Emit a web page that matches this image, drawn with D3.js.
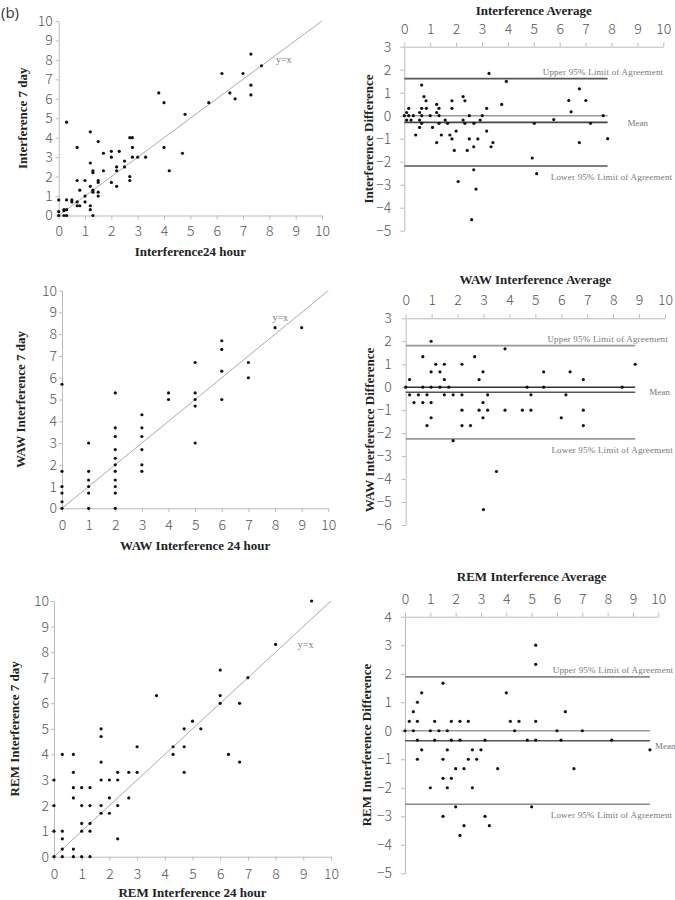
<!DOCTYPE html>
<html><head><meta charset="utf-8">
<script src="https://cdn.jsdelivr.net/npm/d3@7/dist/d3.min.js"></script>
<style>body{margin:0;background:#fff}</style>
</head><body>
<svg id="c" width="675" height="900"></svg>
<script>
// ---------- DATA ----------
const axisTicks = [0,1,2,3,4,5,6,7,8,9,10];

// Panel 1: Interference 24 hour vs 7 day
const int24 = [0,0,0,0.2,0.2,0.2,0.3,0.3,0.3,0.3,0.5,0.5,0.7,0.7,0.7,0.7,0.8,0.8,1.0,1.0,1.0,1.2,1.2,1.2,1.2,1.2,1.3,1.3,1.3,1.3,1.3,1.5,1.5,1.5,1.5,1.5,1.7,1.7,2.0,2.0,2.0,2.2,2.2,2.2,2.3,2.5,2.5,2.7,2.8,2.7,2.7,2.8,2.8,3.0,3.3,3.8,4.0,4.0,4.2,4.7,4.8,5.7,6.2,6.5,6.7,7.0,7.3,7.3,7.3,7.7];
const int7  = [0.8,0.2,0,0.25,0.3,0,0,0.3,0.8,4.8,0.8,0.7,3.5,1.8,0.7,0.5,0.5,1.3,1.8,1.0,0.7,4.3,2.7,1.5,0.5,0.3,0,2.3,2.2,1.3,1.2,3.8,1.8,1.7,1.2,1.0,3.2,2.3,3.3,3.0,1.7,2.5,2.3,1.5,3.3,2.8,2.5,4.0,4.0,2.0,1.8,3.5,3.0,3.0,3.0,6.3,5.8,3.5,2.3,3.2,5.2,5.8,7.3,6.3,6.0,7.3,8.3,6.7,6.2,7.7];

// Panel 2: Interference Bland-Altman
const intAvg  = [0,0.09,0.17,0.09,0.17,0.26,0.35,0.44,0.59,0.59,0.59,0.67,0.67,0.67,0.67,0.76,0.84,0.85,1.0,1.09,1.25,1.25,1.25,1.34,1.34,1.34,1.43,1.58,1.67,1.76,1.84,1.84,1.84,1.93,2.0,2.08,2.27,2.27,2.34,2.34,2.43,2.51,2.51,2.69,2.68,2.68,2.77,2.84,2.93,3.01,3.18,3.18,3.27,3.35,3.42,3.76,3.94,2.6,4.94,5.02,5.11,5.77,6.35,6.44,6.76,6.76,7.01,7.19,7.68,7.85];
const intDiff = [0,0.14,0.32,-0.19,0,-0.19,0,-0.84,0.14,-0.19,-0.51,1.33,0.32,0,-0.33,0.83,0.65,0.32,0,-0.51,0.49,0.14,-1.17,0.32,0,-0.33,-0.84,-0.19,-0.33,-0.84,0.65,0.32,-1.01,-1.51,-0.67,-2.86,0.83,-0.19,0.65,-0.33,-1.51,0,-1.01,-0.33,-1.35,-2.35,-3.19,-1.01,-0.19,0,0.32,-0.67,1.84,-1.35,-1.17,0.49,1.49,-4.52,-1.84,-0.33,-2.52,-0.17,0.66,0.17,1.17,-1.17,0.66,-0.33,0,-1.0];
const intStats = {mean:-0.29, upper:1.61, lower:-2.19};

// Panel 3: WAW Interference 24 hour vs 7 day
const waw24 = [0,0,0,0,0,0, 1,1,1,1,1,1, 2,2,2,2,2,2,2,2,2,2,2, 3,3,3,3,3,3, 4,4, 5,5,5,5,5, 6,6,6,6, 7,7, 8, 9];
const waw7  = [5.7,1.7,1.0,0.7,0.3,0, 3.0,1.7,1.3,1.0,0.7,0, 5.3,3.7,3.3,2.7,2.3,2.0,1.7,1.3,1.0,0.7,0, 4.3,3.7,3.3,2.7,2.0,1.7, 5.3,5.0, 6.7,5.3,5.0,4.7,3.0, 7.7,7.3,6.3,5.0, 6.7,6.0, 8.3, 8.3];

// Panel 4: WAW Bland-Altman
const wawAvg  = [0,0.15,0.15,0.32,0.49,0.66,0.66,0.66,0.82,0.82,0.98,0.98,0.98,0.98,0.98,1.16,1.32,1.32,1.49,1.49,1.49,1.66,1.83,1.83,2.17,2.17,2.17,2.17,2.5,2.66,2.83,2.83,2.98,2.98,2.98,3.16,3.16,3.83,3.83,4.5,4.68,4.83,4.83,5.32,5.32,3.5,3.0,6.0,6.18,6.34,6.85,6.85,6.85,8.35,8.85];
const wawDiff = [0,0.33,-0.33,-0.67,-0.33,1.33,0,-0.67,-0.33,-1.67,2.0,0.67,0,-0.67,-1.33,1.0,0.67,0,1.0,0.33,-0.33,0,-0.33,-2.33,1.0,-0.33,-1.0,-1.67,-1.67,1.33,0.33,-1.0,0.67,-0.67,-1.33,-0.33,-1.0,1.67,-1.0,-1.0,0,-0.33,-1.0,0.67,0,-3.67,-5.33,-1.33,-0.33,0.67,0.33,-1.0,-1.67,0,1.0];
const wawStats = {mean:-0.22, upper:1.81, lower:-2.25};

// Panel 5: REM Interference 24 hour vs 7 day
const rem24 = [0,0,0,0, 0.3,0.3,0.3,0.3,0.3, 0.7,0.7,0.7,0.7,0.7,0.7, 1.0,1.0,1.0,1.0,1.0, 1.3,1.3,1.3,1.3,1.3, 1.7,1.7,1.7,1.7,1.7,1.7, 2.0,2.0,2.0, 2.3,2.3,2.3,2.3, 2.7,2.7, 3.0,3.0, 3.7, 4.3,4.3, 4.7,4.7,4.7, 5.0, 5.3, 6.0,6.0,6.0, 6.3, 6.7,6.7, 7.0, 8.0, 9.3];
const rem7  = [0,1,2,3, 0,0.3,0.7,1,4, 0,0.3,2.3,2.7,3.3,4.0, 0,1.0,1.3,2.0,2.7, 0,1.0,1.3,2.0,2.7, 5.0,4.7,3.7,3.0,2.0,1.7, 3.0,2.3,1.7, 3.3,3.0,2.0,0.7, 3.3,2.3, 4.3,3.3, 6.3, 4.3,4.0, 5.0,4.3,3.3, 5.3, 5.0, 7.3,6.3,6.0, 4.0, 6.0,3.7, 7.0, 8.3, 10.0];

// Panel 6: REM Bland-Altman
const remAvg  = [0,0.17,0.33,0.33,0.49,0.49,0.49,0.49,0.66,0.66,1.0,1.0,1.17,1.17,1.34,1.5,1.5,1.5,1.5,1.67,1.67,1.67,1.83,1.83,1.83,2.0,2.0,2.17,2.17,2.17,2.33,2.33,2.5,2.5,2.66,2.66,2.83,3.0,3.16,3.16,3.33,3.66,4.0,4.16,4.33,4.5,4.83,5.0,5.16,5.16,5.16,5.16,6.0,6.16,6.33,6.67,7.0,8.16,9.67];
const remDiff = [0,0.33,0.67,0,1.0,0.33,-0.33,-1.0,1.33,-0.67,0,-2.0,0.33,-0.33,0,1.67,-1.0,-1.67,-3.0,0,-0.67,-2.0,0.33,-0.33,-1.67,-1.33,-2.67,0.33,-0.33,-3.67,-1.33,-3.33,0.33,-1.0,-0.67,-2.0,-1.0,-0.67,-0.33,-3.0,-3.33,-1.33,1.33,0.33,0,0.33,-0.33,-2.67,3.0,2.33,0.33,-0.33,0,-0.33,0.67,-1.33,0,-0.33,-0.67];
const remStats = {mean:-0.35, upper:1.89, lower:-2.58};

const yTicksBA1 = [3,2,1,0,-1,-2,-3,-4,-5];
const yTicksBA2 = [3,2,1,0,-1,-2,-3,-4,-5,-6];
const yTicksBA3 = [4,3,2,1,0,-1,-2,-3,-4,-5];

// ---------- DRAWING ----------
const svg = d3.select('#c');
const TICKFONT = '"Noto Sans CJK SC","Open Sans",sans-serif';
const SERIF = '"Liberation Serif","Times New Roman",serif';

function styleAxis(g, fs){
  g.select('.domain').attr('stroke','#bbb').attr('stroke-width',1);
  g.selectAll('.tick line').attr('stroke','#bbb');
  g.selectAll('.tick text').attr('fill','#555').attr('font-family',TICKFONT)
    .attr('font-size',fs||14).attr('font-weight',300);
}

svg.append('text').attr('x',1).attr('y',18).text('(b)')
  .attr('font-family','"Open Sans",sans-serif').attr('font-size',15).attr('fill','#333');

function scatterPanel(o){
  const x = d3.scaleLinear().domain([0,10]).range(o.xr);
  const y = d3.scaleLinear().domain([0,10]).range(o.yr);
  const g = svg.append('g');
  const gx = g.append('g').attr('transform',`translate(0,${o.yr[0]})`)
    .call(d3.axisBottom(x).tickValues(axisTicks).tickFormat(d3.format('d')).tickSize(4).tickSizeOuter(0).tickPadding(o.xpad));
  styleAxis(gx);
  const gy = g.append('g').attr('transform',`translate(${o.xr[0]},0)`)
    .call(d3.axisLeft(y).tickValues(axisTicks).tickFormat(d3.format('d')).tickSize(3).tickSizeOuter(0).tickPadding(o.ypad));
  styleAxis(gy);
  g.append('line').attr('x1',x(0)).attr('y1',y(0)).attr('x2',x(10)).attr('y2',y(10))
    .attr('stroke','#aaa').attr('stroke-width',1);
  g.append('text').attr('x',x(o.yxPos[0])).attr('y',y(o.yxPos[1])).text('y=x')
    .attr('font-family',SERIF).attr('font-size',10).attr('fill','#777');
  g.selectAll('circle').data(o.xs.map((v,i)=>[v,o.ys[i]])).join('circle')
    .attr('cx',d=>x(d[0])).attr('cy',d=>y(d[1])).attr('r',1.6).attr('fill','#111');
  g.append('text').attr('x',(o.xr[0]+o.xr[1])/2).attr('y',o.xLabelY).attr('text-anchor','middle')
    .attr('font-family',SERIF).attr('font-weight','bold').attr('font-size',13).attr('fill','#222').text(o.xLabel);
  g.append('text').attr('transform',`translate(${o.yLabelX},${(o.yr[0]+o.yr[1])/2}) rotate(-90)`)
    .attr('text-anchor','middle').attr('font-family',SERIF).attr('font-weight','bold')
    .attr('font-size',13).attr('fill','#222').text(o.yLabel);
}

function baPanel(o){
  const x = d3.scaleLinear().domain([0,10]).range(o.xr);
  const y = d3.scaleLinear().domain([o.yticks[0], o.yticks[o.yticks.length-1]]).range(o.yr);
  const g = svg.append('g');
  const gx = g.append('g').attr('transform',`translate(0,${o.yr[0]})`)
    .call(d3.axisTop(x).tickValues(axisTicks).tickFormat(d3.format('d')).tickSize(4).tickSizeOuter(0).tickPadding(9));
  styleAxis(gx);
  const gy = g.append('g').attr('transform',`translate(${o.xr[0]},0)`)
    .call(d3.axisLeft(y).tickValues(o.yticks).tickFormat(d3.format('d')).tickSize(4).tickSizeOuter(0).tickPadding(o.ypad));
  styleAxis(gy);
  const xEnd = d3.max(o.avg);
  const lines = [
    {v:0, c:o.colors.zero},
    {v:o.stats.upper, c:o.colors.lim},
    {v:o.stats.lower, c:o.colors.lim},
    {v:o.stats.mean, c:o.colors.mean}
  ];
  g.selectAll('line.h').data(lines).join('line').attr('class','h')
    .attr('x1',x(0)).attr('x2',x(xEnd)).attr('y1',d=>y(d.v)).attr('y2',d=>y(d.v))
    .attr('stroke',d=>d.c).attr('stroke-width',1.6);
  const ann = g.append('g').attr('font-family',SERIF).attr('font-size',9).attr('fill','#777');
  ann.append('text').attr('x',x(10)+o.upEnd).attr('y',y(o.stats.upper)-4).attr('text-anchor','end')
    .attr('letter-spacing',0.2).text('Upper 95% Limit of Agreement');
  ann.append('text').attr('x',x(10)+o.loEnd).attr('y',y(o.stats.lower)+14).attr('text-anchor','end')
    .attr('letter-spacing',0.2).text('Lower 95% Limit of Agreement');
  ann.append('text').attr('x',x(xEnd)+o.meanOff).attr('y',y(o.stats.mean)+o.meanDy).text('Mean');
  g.selectAll('circle').data(o.avg.map((v,i)=>[v,o.diff[i]])).join('circle')
    .attr('cx',d=>x(d[0])).attr('cy',d=>y(d[1])).attr('r',1.6).attr('fill','#111');
  g.append('text').attr('x',(o.xr[0]+o.xr[1])/2).attr('y',o.titleY).attr('text-anchor','middle')
    .attr('font-family',SERIF).attr('font-weight','bold').attr('font-size',13).attr('fill','#222').text(o.title);
  g.append('text').attr('transform',`translate(${o.yLabelX},${o.yLabelCY}) rotate(-90)`)
    .attr('text-anchor','middle').attr('font-family',SERIF).attr('font-weight','bold')
    .attr('font-size',13).attr('fill','#222').text(o.yLabel);
}

scatterPanel({xs:int24, ys:int7, xr:[58.7,322], yr:[215.5,21], xpad:7, ypad:3,
  xLabel:'Interference24 hour', xLabelY:256, yLabel:'Interference 7 day', yLabelX:27, yxPos:[8.25,7.85]});
scatterPanel({xs:waw24, ys:waw7, xr:[62,328.3], yr:[508.3,290.7], xpad:8, ypad:2,
  xLabel:'WAW Interference 24 hour', xLabelY:550, yLabel:'WAW Interference 7 day', yLabelX:25, yxPos:[7.9,8.6]});
scatterPanel({xs:rem24, ys:rem7, xr:[54,331], yr:[856.7,601], xpad:8, ypad:2,
  xLabel:'REM Interference 24 hour', xLabelY:897, yLabel:'REM Interference 7 day', yLabelX:19, yxPos:[8.8,8.15]});

baPanel({avg:intAvg, diff:intDiff, stats:intStats, xr:[404.3,663.3], yr:[46.7,230.7], yticks:yTicksBA1, ypad:9,
  colors:{zero:'#999', lim:'#555', mean:'#444'}, upEnd:0, loEnd:9, meanOff:20, meanDy:4,
  title:'Interference Average', titleY:15, yLabel:'Interference Difference', yLabelX:373, yLabelCY:139});
baPanel({avg:wawAvg, diff:wawDiff, stats:wawStats, xr:[405.7,665], yr:[318.3,525], yticks:yTicksBA2, ypad:10,
  colors:{zero:'#333', lim:'#999', mean:'#555'}, upEnd:3, loEnd:8, meanOff:14, meanDy:3,
  title:'WAW Interference Average', titleY:284, yLabel:'WAW Interference Difference', yLabelX:374, yLabelCY:430});
baPanel({avg:remAvg, diff:remDiff, stats:remStats, xr:[405,658.3], yr:[616.7,873.3], yticks:yTicksBA3, ypad:9,
  colors:{zero:'#999', lim:'#888', mean:'#555'}, upEnd:15, loEnd:14, meanOff:5, meanDy:8,
  title:'REM Interference Average', titleY:581, yLabel:'REM Interference Difference', yLabelX:371, yLabelCY:745});
</script>
</body></html>
